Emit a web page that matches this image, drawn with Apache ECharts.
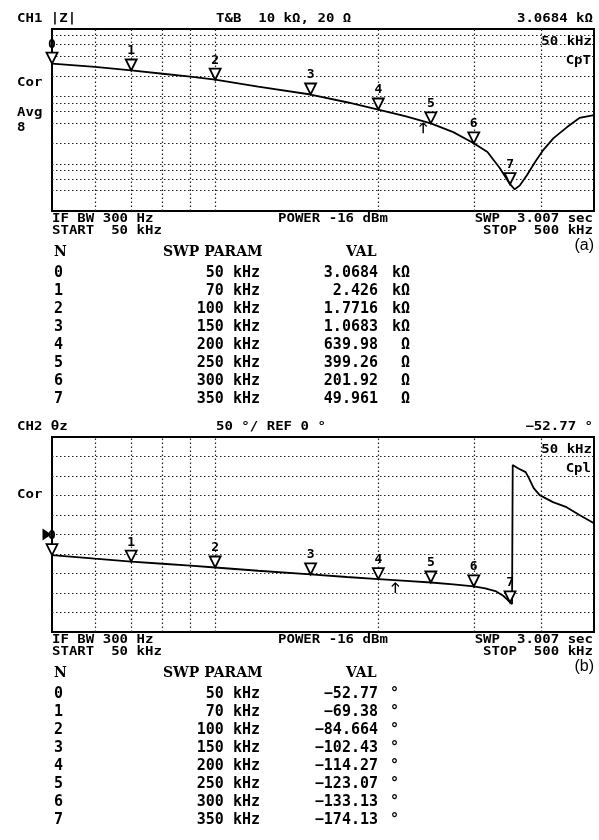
<!DOCTYPE html>
<html>
<head>
<meta charset="utf-8">
<script src="https://cdn.jsdelivr.net/npm/echarts@6/dist/echarts.min.js"></script>
<style>
  html, body { margin: 0; padding: 0; background: #fff; }
  #chart { width: 599px; height: 840px; }
</style>
</head>
<body>
<div id="chart"></div>
<script>
  // trace samples (kHz)
  const freqTop = [50, 60, 70, 80, 90, 100, 120, 150, 175, 200, 225, 250, 275, 300, 318, 335, 350, 357, 365, 376, 389, 403, 421, 446, 470, 500];
  const zMag = [3068, 2740, 2426, 2170, 1960, 1772, 1400, 1068, 820, 640, 505, 399, 296, 202, 150, 87, 50, 42, 48, 68, 106, 160, 241, 351, 479, 530];

  const freqBot = [50, 60, 70, 80, 90, 100, 120, 150, 175, 200, 225, 250, 275, 300, 315, 330, 340, 346, 350, 353, 354, 356, 362, 374, 379, 387, 397, 420, 445, 470, 500];
  const phase = [-52.77, -62, -69.38, -75, -80, -84.66, -93, -102.43, -109, -114.27, -119, -123.07, -128, -133.13, -138, -146, -157, -167, -174.13, -178.5, 178, 178, 170, 160, 145, 119, 101, 83, 70, 50, 29];

  // marker table
  const markerN = [0, 1, 2, 3, 4, 5, 6, 7];
  const markerFreq = [50, 70, 100, 150, 200, 250, 300, 350];
  const markerZ = [3068.4, 2426, 1771.6, 1068.3, 639.98, 399.26, 201.92, 49.961];
  const markerPhase = [-52.77, -69.38, -84.664, -102.43, -114.27, -123.07, -133.13, -174.13];

  // graticule
  const gridFreqs = [60, 70, 80, 90, 100, 200, 300, 400];
  const gridZ = [40, 60, 80, 100, 200, 400, 600, 800, 1000, 2000, 4000, 6000, 8000];
  const gridPhase = [-200, -150, -100, -50, 0, 50, 100, 150, 200];

  // stimulus cursor / reference
  const cursorTop = [242, 415];
  const cursorBot = [215, -122];
  const refPhase = 0;

  const chartObj = echarts.init(document.getElementById('chart'));

  const MONO = '"DejaVu Sans Mono"';
  const dotted = { type: [1.5, 2.5], color: '#222', width: 1.2 };
  const triPath = 'path://M0,0 L12,0 L6,11 Z';
  const arrowPath = 'path://M5,0 L10,5 L9,6.2 L5.9,3 L5.9,14 L4.1,14 L4.1,3 L1,6.2 L0,5 Z';

  function txt(text, x, y, align, font, sx) {
    return {
      type: 'text', x: x, y: y, scaleX: sx || 1, z: 10,
      style: {
        text: text, font: font, fill: '#000',
        textAlign: align, align: align,
        textVerticalAlign: 'middle', verticalAlign: 'middle'
      }
    };
  }
  const inst = 'bold 12px ' + MONO;
  const SX = 1.17;

  function fmtZ(v) {
    if (v >= 1000) return [String(Number((v / 1000).toPrecision(6))), 'kΩ'];
    return [String(v), 'Ω'];
  }
  function minus(s) { return s.replace('-', '−'); }

  function markLines(xs, ys) {
    return {
      silent: true, z: 1, animation: false,
      symbol: ['none', 'none'],
      label: { show: false },
      lineStyle: dotted,
      emphasis: { disabled: true },
      data: xs.map(f => ({ xAxis: f })).concat(ys.map(v => ({ yAxis: v })))
    };
  }

  function markerSeries(idx, vals) {
    return {
      type: 'scatter', xAxisIndex: idx, yAxisIndex: idx, z: 4,
      data: markerFreq.map((f, i) => [f, vals[i]]),
      symbol: triPath, symbolSize: [11, 11], symbolOffset: [0, '-50%'],
      itemStyle: { color: '#fff', borderColor: '#000', borderWidth: 1.8, opacity: 1 },
      label: {
        show: true, position: 'top', distance: 1,
        formatter: p => String(markerN[p.dataIndex]),
        fontFamily: MONO, fontWeight: 'bold', fontSize: 13, color: '#000'
      },
      silent: true
    };
  }

  function cursorSeries(idx, pt) {
    return {
      type: 'scatter', xAxisIndex: idx, yAxisIndex: idx, z: 4,
      data: [pt], symbol: arrowPath, symbolSize: [8, 11], symbolOffset: [0, '50%'],
      itemStyle: { color: '#000', opacity: 1 }, silent: true
    };
  }

  // text blocks
  const graphics = [];
  function panelText(plotTop, plotBottom, head, scaleTxt, topRight, leftLabels, cpLabel, tag, rows) {
    graphics.push(txt(head, 17, plotTop - 10, 'left', inst, SX));
    graphics.push(txt(scaleTxt, 216, plotTop - 10, 'left', inst, SX));
    graphics.push(txt(topRight, 593, plotTop - 10, 'right', inst, SX));
    graphics.push(txt('50 kHz', 592, plotTop + 13, 'right', inst, SX));
    graphics.push(txt(cpLabel, 591, plotTop + 32, 'right', inst, SX));
    leftLabels.forEach(l => graphics.push(txt(l[0], 17, l[1], 'left', inst, SX)));
    graphics.push(txt('IF BW 300 Hz', 52, plotBottom + 8, 'left', inst, SX));
    graphics.push(txt('START  50 kHz', 52, plotBottom + 20, 'left', inst, SX));
    graphics.push(txt('POWER -16 dBm', 278, plotBottom + 8, 'left', inst, SX));
    graphics.push(txt('SWP  3.007 sec', 593, plotBottom + 8, 'right', inst, SX));
    graphics.push(txt('STOP  500 kHz', 593, plotBottom + 20, 'right', inst, SX));
    graphics.push(txt(tag, 594, plotBottom + 35, 'right', '16px "Liberation Sans"'));
    const hy = plotBottom + 41;
    const hfont = 'bold 14px "DejaVu Serif"';
    graphics.push(txt('N', 54, hy, 'left', hfont));
    graphics.push(txt('SWP PARAM', 163, hy, 'left', hfont));
    graphics.push(txt('VAL', 346, hy, 'left', hfont));
    const rfont = 'bold 15px ' + MONO;
    rows.forEach((r, i) => {
      const y = plotBottom + 62 + i * 18;
      graphics.push(txt(String(markerN[i]), 54, y, 'left', rfont));
      graphics.push(txt(markerFreq[i] + ' kHz', 260, y, 'right', rfont));
      graphics.push(txt(r[0], 378, y, 'right', rfont));
      graphics.push(txt(r[1], r[2], y, r[3], rfont));
    });
  }

  const z0 = fmtZ(markerZ[0]);
  panelText(29, 211, 'CH1 |Z|', 'T&B  10 kΩ, 20 Ω', z0[0] + ' ' + z0[1],
    [['Cor', 83], ['Avg', 113], ['8', 128]], 'CpT', '(a)',
    markerZ.map(v => { const s = fmtZ(v); return [s[0], s[1], 410, 'right']; }));
  panelText(437, 632, 'CH2 θz', '50 °/ REF ' + refPhase + ' °', minus(String(markerPhase[0])) + ' °',
    [['Cor', 495]], 'Cpl', '(b)',
    markerPhase.map(v => [minus(String(v)), '°', 390, 'left']));

  const option = {
    animation: false,
    backgroundColor: '#fff',
    grid: [
      { left: 52, top: 29, width: 542, height: 182, show: true, borderColor: '#000', borderWidth: 2, backgroundColor: 'transparent' },
      { left: 52, top: 437, width: 542, height: 195, show: true, borderColor: '#000', borderWidth: 2, backgroundColor: 'transparent' }
    ],
    xAxis: [
      { type: 'log', logBase: 10, min: 50, max: 500, gridIndex: 0, show: false },
      { type: 'log', logBase: 10, min: 50, max: 500, gridIndex: 1, show: false }
    ],
    yAxis: [
      { type: 'log', logBase: 10, min: 20, max: 10000, gridIndex: 0, show: false },
      { type: 'value', min: -250, max: 250, interval: 50, gridIndex: 1, show: false }
    ],
    graphic: { elements: graphics },
    series: [
      {
        type: 'line', xAxisIndex: 0, yAxisIndex: 0, z: 2,
        data: freqTop.map((f, i) => [f, zMag[i]]),
        showSymbol: false, silent: true,
        lineStyle: { color: '#000', width: 1.8 },
        markLine: markLines(gridFreqs, gridZ)
      },
      markerSeries(0, markerZ),
      cursorSeries(0, cursorTop),
      {
        type: 'line', xAxisIndex: 1, yAxisIndex: 1, z: 2,
        data: freqBot.map((f, i) => [f, phase[i]]),
        showSymbol: false, silent: true,
        lineStyle: { color: '#000', width: 1.8 },
        markLine: markLines(gridFreqs, gridPhase)
      },
      markerSeries(1, markerPhase),
      cursorSeries(1, cursorBot),
      {
        type: 'scatter', xAxisIndex: 1, yAxisIndex: 1, z: 3,
        data: [[markerFreq[0], refPhase]],
        symbol: 'path://M0,0 L10,6 L0,12 Z', symbolSize: [9, 12], symbolOffset: [-5, 0],
        itemStyle: { color: '#000', opacity: 1 }, silent: true
      }
    ]
  };

  chartObj.setOption(option);
</script>
</body>
</html>
